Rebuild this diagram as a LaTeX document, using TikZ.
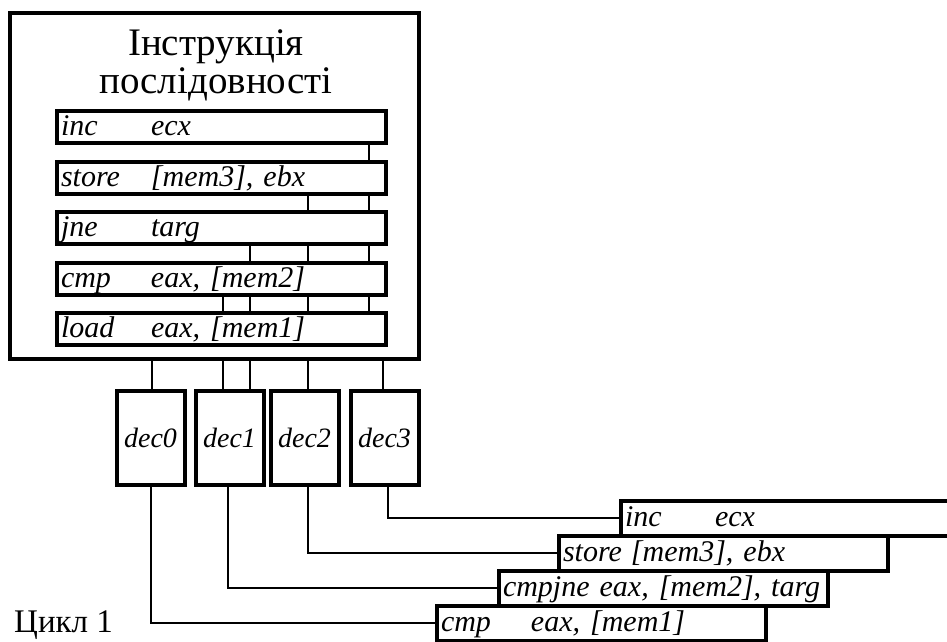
\documentclass[tikz,border=0pt]{standalone}
\usepackage{fontspec}
\setmainfont{Liberation Serif}
\usepackage{tikz}
\usetikzlibrary{backgrounds}

\newcommand{\opc}[2][90pt]{\makebox[#1][l]{#2}}

\begin{document}
\begin{tikzpicture}[x=1pt, y=-1pt,
  instr/.style={draw, fill=white, line width=4pt, minimum height=32pt,
    inner xsep=4pt, inner ysep=0pt, text width=321pt, text height=22pt,
    text depth=5pt, align=left, font=\fontsize{30}{30}\selectfont\itshape},
  dec/.style={draw, fill=white, line width=4pt, minimum width=68pt,
    minimum height=94pt, inner sep=0pt, font=\fontsize{28}{28}\selectfont\itshape},
  wire/.style={line width=1.3pt}]
  \useasboundingbox (0, 0) rectangle (947, 642);
  \clip (0, 0) rectangle (947, 642);

  \node [draw, line width=4.5pt, minimum width=409pt, minimum height=346pt] (seq) at (214.5, 186) {};
  \node [align=center, font=\fontsize{39}{38}\selectfont] (title) at (216, 65)
  {Інструкція\\послідовності};

  \node [instr] (inc) at (221.5, 127) {\opc{inc}ecx};
  \node [instr] (store) at (221.5, 177.5) {\opc{store}[mem3], ebx};
  \node [instr] (jne) at (221.5, 228) {\opc{jne}targ};
  \node [instr] (cmp) at (221.5, 278.5) {\opc{cmp}eax, [mem2]};
  \node [instr] (load) at (221.5, 329) {\opc{load}eax, [mem1]};

  \foreach \i/\x in {0/150.5, 1/229.5, 2/304.5, 3/384.5} {
    \node [dec] (dec\i) at (\x, 438) {dec\i};
  }

  \node [instr, minimum height=35pt, anchor=west] (binc) at (619, 518) {\opc{inc}ecx};
  \node [instr, minimum height=35pt, anchor=west] (bstore) at (557, 553) {\opc[68pt]{store}[mem3], ebx};
  \node [instr, minimum height=35pt, anchor=west] (bjne) at (497, 588) {cmpjne eax, [mem2], targ};
  \node [instr, minimum height=35pt, anchor=west] (bcmp) at (435, 623) {\opc{cmp}eax, [mem1]};

  \node [anchor=base west, inner sep=0pt, font=\fontsize{33}{33}\selectfont] (cyc1) at (14, 632) {Цикл 1};

  \begin{scope}[on background layer]
    \draw [wire] (inc.south -| 369, 0) -- (load.south -| 369, 0)
      (seq.south -| 383, 0) -- (dec3.north -| 383, 0);
    \foreach \a/\b/\x in {store/dec2/308, jne/dec1/250, cmp/dec1/223, load/dec0/152} {
      \draw [wire] (\a.south -| \x, 0) -- (load.south -| \x, 0)
        (seq.south -| \x, 0) -- (\b.north -| \x, 0);
    }
    \draw [wire] (dec0.south -| 151, 0) |- (bcmp.west);
    \draw [wire] (dec1.south -| 228, 0) |- (bjne.west);
    \draw [wire] (dec2.south -| 308, 0) |- (bstore.west);
    \draw [wire] (dec3.south -| 388, 0) |- (binc.west);
  \end{scope}
\end{tikzpicture}
\end{document}
